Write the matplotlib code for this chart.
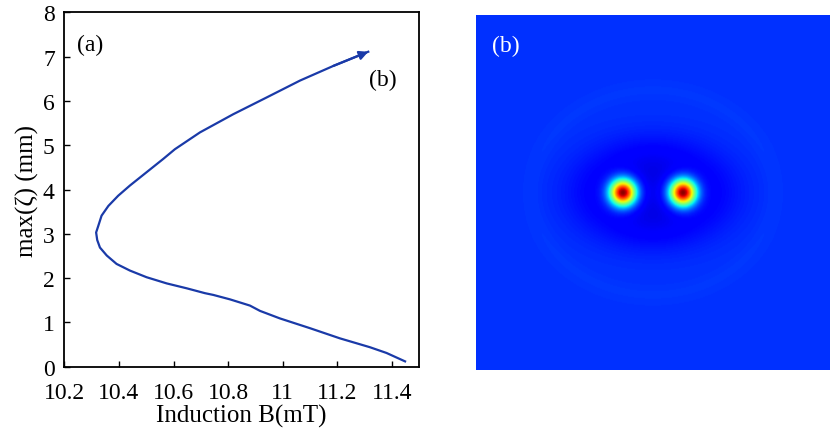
import numpy as np
import matplotlib
matplotlib.use("Agg")
import matplotlib.pyplot as plt

plt.rcParams['font.family'] = ['Liberation Serif', 'DejaVu Serif']

# curve: induction B (mT) vs max(zeta) (mm)
B = [11.449, 11.381, 11.320, 11.210, 11.100, 10.990, 10.917, 10.880,
     10.807, 10.746, 10.715, 10.648, 10.575, 10.501, 10.440, 10.391,
     10.355, 10.330, 10.320, 10.316, 10.324, 10.336, 10.361, 10.397,
     10.440, 10.501, 10.562, 10.605, 10.697, 10.819, 10.942, 11.064,
     11.186, 11.314]
zeta = [0.12, 0.31, 0.44, 0.64, 0.87, 1.09, 1.26, 1.38,
        1.52, 1.62, 1.66, 1.77, 1.88, 2.02, 2.17, 2.32,
        2.51, 2.69, 2.86, 3.03, 3.18, 3.41, 3.63, 3.86,
        4.09, 4.39, 4.69, 4.91, 5.29, 5.70, 6.08, 6.46,
        6.79, 7.11]

x_ticks = [10.2, 10.4, 10.6, 10.8, 11, 11.2, 11.4]
x_tick_labels = ['10.2', '10.4', '10.6', '10.8', '11', '11.2', '11.4']
y_ticks = [0, 1, 2, 3, 4, 5, 6, 7, 8]

# panel (b): surface field made of two peaks, a dark halo and faint rings
peak_x = [-0.17, 0.17]
peak_y = [0.0, 0.0]
peak_height = 0.84
peak_sigma = 0.05
background = 0.175
halo_height = 0.07
halo_sigma = 0.09
dark_depth = 0.1
dark_sx, dark_sy = 0.44, 0.29
ring_height = 0.006
ring_radius = 0.68
ring_width = 0.05

fig = plt.figure(figsize=(8.3, 4.35), dpi=100)

line_color = '#1a3aa8'
ax = fig.add_axes([0.0777, 0.1547, 0.5048 - 0.0777, 0.8147])
ax.plot(B, zeta, color=line_color, lw=1.6)
ax.annotate('', xy=(B[-1], zeta[-1]), xytext=(B[-2], zeta[-2]),
            arrowprops=dict(arrowstyle='-|>', color=line_color, lw=1.6,
                            mutation_scale=13, shrinkA=0, shrinkB=0))
ax.set_xlim(10.2, 11.5)
ax.set_ylim(0, 8)
ax.set_xticks(x_ticks)
ax.set_xticklabels(x_tick_labels)
ax.set_yticks(y_ticks)
ax.tick_params(direction='in', length=4, labelsize=17, width=1)
ax.tick_params(axis='x', pad=11)
ax.tick_params(axis='y', pad=7)
for s in ax.spines.values():
    s.set_linewidth(1.3)
ax.set_xlabel('Induction B(mT)', fontsize=18, labelpad=1)
ax.set_ylabel('max(ζ) (mm)', fontsize=18, labelpad=3)
ax.text(10.293, 7.28, '(a)', fontsize=17, va='center', ha='center')
ax.text(11.368, 6.49, '(b)', fontsize=17, va='center', ha='center')

ax2 = fig.add_axes([0.5735, 0.1478, 1.0 - 0.5735, 0.9632 - 0.1478])
g = np.linspace(-1, 1, 354)
X, Y = np.meshgrid(g, g)
field = np.full_like(X, background)
field -= dark_depth * np.exp(-((X / dark_sx) ** 2 + (Y / dark_sy) ** 2) ** 1.5)
for px, py in zip(peak_x, peak_y):
    r2 = (X - px) ** 2 + (Y - py) ** 2
    field += peak_height * np.exp(-r2 / (2 * peak_sigma ** 2))
    field += halo_height * np.exp(-r2 / (2 * halo_sigma ** 2))
rho = np.sqrt(X ** 2 + (Y / 0.85) ** 2)
field += ring_height * np.exp(-((rho - ring_radius) / ring_width) ** 2)
ax2.imshow(field, cmap='jet', vmin=0, vmax=1, origin='lower',
           extent=[-1, 1, -1, 1], interpolation='bilinear', aspect='auto')
ax2.set_axis_off()
ax2.text(0.045, 0.915, '(b)', transform=ax2.transAxes, color='white',
         fontsize=17, va='center', ha='left')

fig.savefig('out.png', dpi=100)
